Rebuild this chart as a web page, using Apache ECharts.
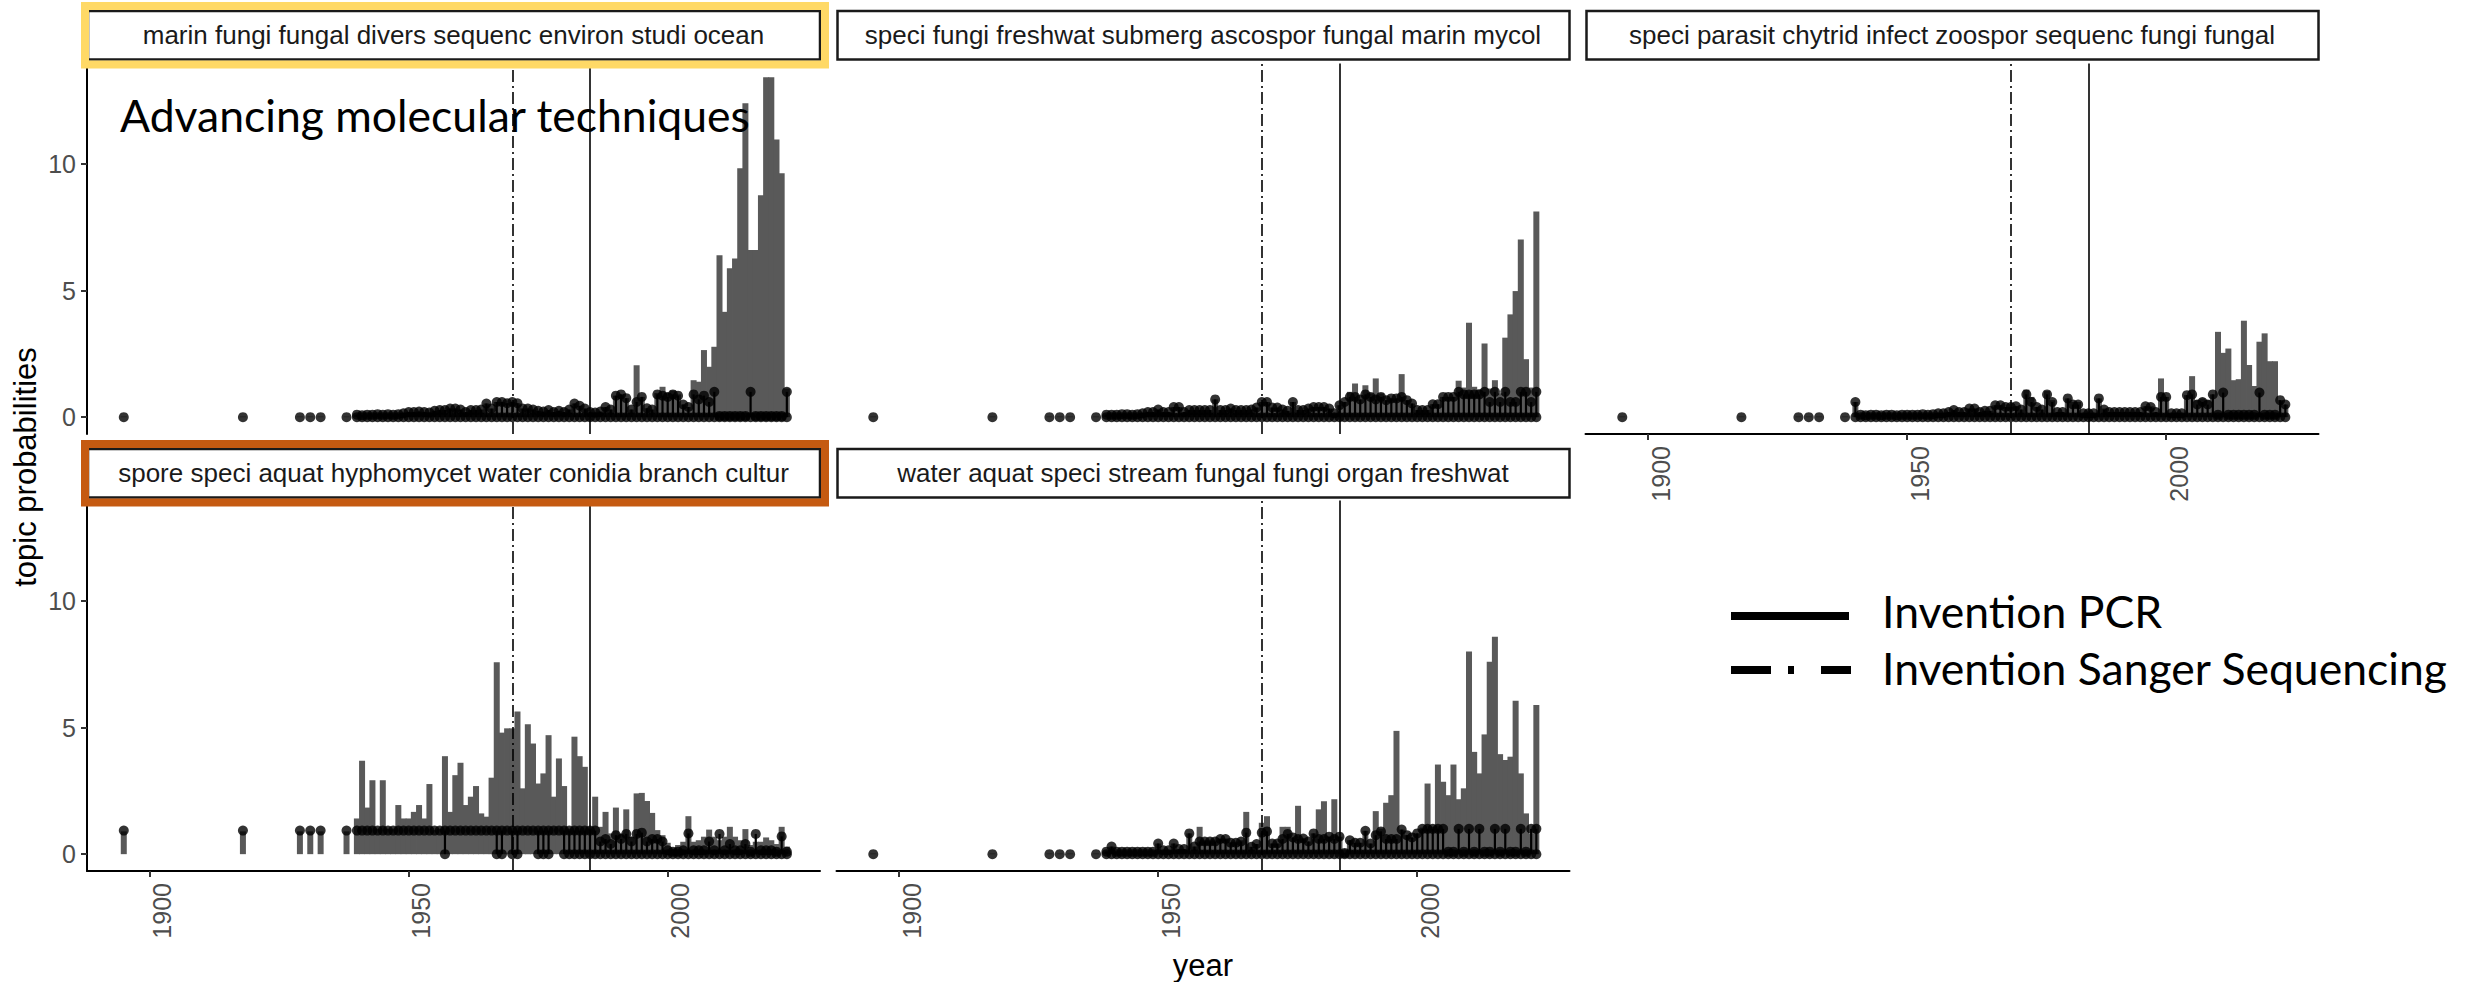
<!DOCTYPE html>
<html>
<head>
<meta charset="utf-8">
<script src="https://cdn.jsdelivr.net/npm/echarts@6/dist/echarts.min.js"></script>
<style>
html,body{margin:0;padding:0;background:#ffffff;}
#chart{width:2468px;height:982px;}
</style>
</head>
<body>
<div id="chart"></div>
<script>
// ---------------- DATA ----------------
const years = [1895,1918,1929,1931,1933,1938,
1940,1941,1942,1943,1944,1945,1946,1947,1948,1949,
1950,1951,1952,1953,1954,1955,1956,1957,1958,1959,
1960,1961,1962,1963,1964,1965,1966,1967,1968,1969,
1970,1971,1972,1973,1974,1975,1976,1977,1978,1979,
1980,1981,1982,1983,1984,1985,1986,1987,1988,1989,
1990,1991,1992,1993,1994,1995,1996,1997,1998,1999,
2000,2001,2002,2003,2004,2005,2006,2007,2008,2009,
2010,2011,2012,2013,2014,2015,2016,2017,2018,2019,
2020,2021,2022,2023];

const topicLabels = [
  'marin fungi fungal divers sequenc environ studi ocean',
  'speci fungi freshwat submerg ascospor fungal marin mycol',
  'speci parasit chytrid infect zoospor sequenc fungi fungal',
  'spore speci aquat hyphomycet water conidia branch cultur',
  'water aquat speci stream fungal fungi organ freshwat'
];

// yearly summed topic probability (grey bars)
const bars1 = [0.02,0.02,0.02,0.02,0.02,0.02,
0.1,0.08,0.1,0.1,0.12,0.1,0.12,0.1,0.12,0.15,
0.2,0.2,0.22,0.2,0.18,0.25,0.28,0.28,0.34,0.34,
0.3,0.2,0.28,0.28,0.3,0.54,0.34,0.6,0.6,0.55,
0.6,0.55,0.34,0.34,0.3,0.25,0.22,0.28,0.2,0.25,
0.2,0.3,0.54,0.45,0.34,0.2,0.18,0.22,0.4,0.3,
0.85,0.9,0.75,0.3,2.05,0.8,0.35,0.3,0.95,1.2,
0.95,1.05,0.9,0.5,0.4,1.46,1.4,2.65,1.99,2.78,
6.4,4.16,5.88,6.27,9.83,12.4,6.6,6.6,8.77,13.43,
13.43,10.97,9.63,1.13];
// highest single-document probability per year (black points)
const peaks1 = [0,0,0,0,0,0,
0.1,0.08,0.1,0.1,0.12,0.1,0.12,0.1,0.12,0.15,
0.2,0.2,0.22,0.2,0.18,0.25,0.28,0.28,0.34,0.34,
0.3,0.2,0.28,0.28,0.3,0.54,0.34,0.6,0.6,0.55,
0.6,0.55,0.34,0.34,0.3,0.25,0.22,0.28,0.2,0.25,
0.2,0.3,0.54,0.45,0.34,0.2,0.18,0.22,0.4,0.3,
0.85,0.9,0.75,0.3,0.6,0.8,0.35,0.3,0.9,0.85,
0.8,0.9,0.85,0.5,0.4,0.9,0.7,0.85,0.6,1.0,
0.05,0.05,0.05,0.05,0.05,0.05,1.0,0.05,0.05,0.05,
0.05,0.05,0.05,1.0];

const bars2 = [0.02,0.02,0.02,0.02,0.02,0.02,
0.1,0.1,0.1,0.12,0.12,0.1,0.12,0.15,0.2,0.2,
0.3,0.2,0.2,0.4,0.4,0.2,0.28,0.28,0.28,0.28,
0.28,0.7,0.28,0.28,0.34,0.28,0.28,0.28,0.3,0.38,
0.6,0.6,0.38,0.38,0.3,0.25,0.6,0.28,0.28,0.34,
0.4,0.4,0.4,0.34,0.15,0.47,0.6,1.0,1.33,0.7,
1.26,0.94,1.53,0.94,0.67,0.74,0.74,1.7,0.67,0.54,
0.28,0.28,0.28,0.51,0.51,0.8,0.8,0.8,1.44,1.17,
3.73,1.2,1.1,2.91,1.13,1.46,0.94,3.14,4.06,4.98,
7.02,2.29,1.17,8.12];
const peaks2 = [0,0,0,0,0,0,
0.1,0.1,0.1,0.12,0.12,0.1,0.12,0.15,0.2,0.2,
0.3,0.2,0.2,0.4,0.4,0.2,0.28,0.28,0.28,0.28,
0.28,0.7,0.28,0.28,0.34,0.28,0.28,0.28,0.3,0.38,
0.6,0.6,0.38,0.38,0.3,0.25,0.6,0.28,0.28,0.34,
0.4,0.4,0.4,0.34,0.15,0.47,0.6,0.8,0.8,0.7,
0.9,0.8,0.7,0.8,0.67,0.74,0.74,0.8,0.67,0.54,
0.28,0.28,0.28,0.51,0.51,0.8,0.8,0.8,1.0,0.9,
0.9,0.9,0.9,1.0,0.6,1.0,0.6,1.0,0.6,0.6,
1.0,1.0,0.6,1.0];

const bars3 = [0.02,0.02,0.02,0.02,0.02,0.02,
0.6,0.1,0.08,0.1,0.1,0.08,0.1,0.1,0.08,0.1,
0.1,0.1,0.1,0.12,0.1,0.12,0.15,0.15,0.2,0.28,
0.2,0.2,0.34,0.34,0.2,0.25,0.25,0.47,0.47,0.4,
0.4,0.43,0.3,1.09,0.8,0.4,0.3,1.03,0.67,0.2,
0.2,0.74,0.6,0.6,0.15,0.15,0.15,0.74,0.34,0.2,
0.2,0.2,0.2,0.2,0.2,0.2,0.43,0.43,0.2,1.53,
0.8,0.15,0.15,0.15,0.87,1.62,0.67,0.74,0.67,0.9,
3.37,2.54,2.71,1.46,1.5,3.81,2.06,1.23,2.98,3.31,
2.21,2.21,0.67,0.5];
const peaks3 = [0,0,0,0,0,0,
0.6,0.1,0.08,0.1,0.1,0.08,0.1,0.1,0.08,0.1,
0.1,0.1,0.1,0.12,0.1,0.12,0.15,0.15,0.2,0.28,
0.2,0.2,0.34,0.34,0.2,0.25,0.25,0.47,0.47,0.4,
0.4,0.43,0.3,0.9,0.6,0.4,0.3,0.9,0.6,0.2,
0.2,0.74,0.5,0.5,0.15,0.15,0.15,0.74,0.3,0.2,
0.2,0.2,0.2,0.2,0.2,0.2,0.43,0.4,0.2,0.8,
0.8,0.15,0.15,0.15,0.87,0.9,0.5,0.6,0.5,0.9,
0.1,0.97,0.1,0.1,0.1,0.1,0.1,0.1,0.97,0.1,
0.1,0.1,0.67,0.5];

const bars4 = [0.9,0.9,0.9,0.9,0.9,0.9,
1.41,3.69,1.84,2.92,1.0,2.92,1.0,1.0,1.94,1.41,
1.41,1.67,1.94,1.41,2.77,0.95,1.0,3.87,1.67,3.12,
3.61,1.94,2.27,2.69,1.61,1.48,3.02,7.58,4.8,4.97,
4.97,5.63,2.6,5.13,4.37,2.79,3.19,4.7,2.27,3.78,
2.69,1.0,4.64,3.87,3.45,1.0,2.27,1.08,1.67,0.82,
1.84,0.82,1.77,0.69,2.4,2.42,2.1,1.63,0.95,0.75,
0.45,0.22,0.36,0.49,1.5,0.49,0.55,0.69,0.97,0.69,
0.55,0.69,1.08,0.69,0.55,0.99,0.36,0.49,0.49,0.66,
0.55,0.4,1.08,0.3];
const peaks4 = [0.93,0.93,0.93,0.93,0.93,0.93,
0.93,0.93,0.93,0.93,0.93,0.93,0.93,0.93,0.93,0.93,
0.93,0.93,0.93,0.93,0.93,0.93,0.93,0.93,0.93,0.93,
0.93,0.93,0.93,0.93,0.93,0.93,0.93,0.93,0.93,0.93,
0.93,0.93,0.93,0.93,0.93,0.93,0.93,0.93,0.93,0.93,
0.93,0.93,0.93,0.93,0.93,0.93,0.93,0.5,0.6,0.4,
0.75,0.6,0.8,0.5,0.8,0.85,0.5,0.6,0.6,0.5,
0.15,0.1,0.1,0.15,0.82,0.15,0.15,0.15,0.5,0.15,
0.8,0.15,0.4,0.15,0.15,0.4,0.1,0.8,0.15,0.15,
0.15,0.1,0.7,0.1];
// lowest single-document probability per year (panel 4 only; others sit at 0)
const lows4 = [0.93,0.93,0.93,0.93,0.93,0.93,
0.93,0.93,0.93,0.93,0.93,0.93,0.93,0.93,0.93,0.93,
0.93,0.93,0.93,0.93,0.93,0.93,0.93,0,0.93,0.93,
0.93,0.93,0.93,0.93,0.93,0.93,0.93,0,0,0.93,
0,0,0.93,0.93,0.93,0,0,0,0.93,0.93,
0,0,0,0,0,0,0,0,0,0,
0,0,0,0,0,0,0,0,0,0,
0,0,0,0,0,0,0,0,0,0,
0,0,0,0,0,0,0,0,0,0,
0,0,0,0];

const bars5 = [0.02,0.02,0.02,0.02,0.02,0.02,
0.1,0.3,0.1,0.1,0.1,0.12,0.1,0.12,0.12,0.15,
0.42,0.15,0.15,0.42,0.2,0.2,0.82,0.3,1.08,0.55,
0.55,0.55,0.62,0.62,0.49,0.49,0.55,1.67,0.29,0.4,
1.24,1.5,0.42,0.42,1.08,1.08,0.66,1.91,0.62,0.5,
0.82,1.77,2.09,0.69,2.17,0.69,0.05,0.55,0.45,0.45,
0.92,0.42,1.7,1.01,2.03,2.33,4.87,0.97,0.75,0.66,
0.82,1.05,2.79,1.08,3.54,2.86,2.33,3.54,2.17,2.6,
8.0,4.04,3.19,4.73,7.6,8.59,3.95,3.72,3.85,6.06,
3.19,1.61,0.8,5.89];
const peaks5 = [0,0,0,0,0,0,
0.1,0.3,0.1,0.1,0.1,0.1,0.1,0.1,0.1,0.1,
0.42,0.15,0.15,0.42,0.2,0.2,0.82,0.3,0.5,0.5,
0.5,0.5,0.6,0.6,0.45,0.45,0.5,0.85,0.29,0.4,
0.85,0.9,0.42,0.42,0.6,0.8,0.66,0.6,0.62,0.5,
0.82,0.6,0.6,0.69,0.6,0.69,0.05,0.55,0.45,0.45,
0.92,0.42,0.75,0.9,0.6,0.6,0.6,0.97,0.75,0.66,
0.82,1.0,1.0,1.0,1.0,1.0,0.1,0.1,1.0,0.1,
1.0,0.1,1.0,0.1,0.1,1.0,0.1,1.0,0.1,0.1,
1.0,0.1,1.0,1.0];

const vlineYears = [1970, 1985];          // Sanger (dot-dash), PCR (solid)
const xTickValues = [1900, 1950, 2000];
const yTickValues = [0, 5, 10];
const annotation = 'Advancing molecular techniques';
const legendLabels = ['Invention PCR', 'Invention Sanger Sequencing'];
const axisTitles = {x: 'year', y: 'topic probabilities'};

// ---------------- LAYOUT ----------------
const COL_LEFT = [87, 836.5, 1585.5];
const PANEL_W = 733;
const ROW_TOP = [63.6, 500.6];
const PANEL_H = 370.4;
const STRIP_TOP = [11, 449];
const STRIP_H = 48.5;
const X_MIN = 1887.9, X_MAX = 2029.4;
const Y_MIN = -0.665, Y_MAX = 13.965;
const BAR = '#595959';
const ARIAL = '"Liberation Sans", Arial, sans-serif';
const CALIBRI = 'Lato, "Open Sans", sans-serif';

const panels = [
  {bars: bars1, peaks: peaks1, lows: null,  row: 0, col: 0, showY: true,  showX: false, frame: '#FFD966'},
  {bars: bars2, peaks: peaks2, lows: null,  row: 0, col: 1, showY: false, showX: false, frame: null},
  {bars: bars3, peaks: peaks3, lows: null,  row: 0, col: 2, showY: false, showX: true,  frame: null},
  {bars: bars4, peaks: peaks4, lows: lows4, row: 1, col: 0, showY: true,  showX: true,  frame: '#C55A11'},
  {bars: bars5, peaks: peaks5, lows: null,  row: 1, col: 1, showY: false, showX: true,  frame: null}
];

const grids = [], xAxes = [], yAxes = [], series = [], graphics = [];

panels.forEach((p, i) => {
  const left = COL_LEFT[p.col], top = ROW_TOP[p.row];
  grids.push({left: left, top: top, width: PANEL_W, height: PANEL_H, containLabel: false});
  xAxes.push({
    gridIndex: i, type: 'value', min: X_MIN, max: X_MAX,
    axisLine: {show: p.showX, onZero: false, lineStyle: {color: '#000', width: 2}},
    axisTick: {show: p.showX, customValues: xTickValues, length: 6, lineStyle: {color: '#333', width: 2}},
    axisLabel: {show: p.showX, customValues: xTickValues, rotate: 90, color: '#4D4D4D',
                fontSize: 25, fontFamily: ARIAL, margin: 12, verticalAlign: 'top',
                formatter: v => String(v)},
    splitLine: {show: false}
  });
  yAxes.push({
    gridIndex: i, type: 'value', min: Y_MIN, max: Y_MAX,
    axisLine: {show: p.showY, onZero: false, lineStyle: {color: '#000', width: 2}},
    axisTick: {show: p.showY, customValues: yTickValues, length: 6, lineStyle: {color: '#333', width: 2}},
    axisLabel: {show: p.showY, customValues: yTickValues, color: '#4D4D4D',
                fontSize: 25, fontFamily: ARIAL, margin: 11, formatter: v => String(v)},
    splitLine: {show: false}
  });

  const lowAt = k => (p.lows ? p.lows[k] : 0);

  series.push({
    type: 'bar', xAxisIndex: i, yAxisIndex: i, silent: true, z: 2,
    barWidth: 6,
    itemStyle: {color: BAR},
    data: years.map((y, k) => [y, p.bars[k]])
  });

  series.push({
    type: 'custom', xAxisIndex: i, yAxisIndex: i, silent: true, z: 3,
    encode: {x: 0, y: [1, 2]},
    data: years.map((y, k) => [y, lowAt(k), p.peaks[k]]).filter(d => d[2] > d[1]),
    renderItem: (params, api) => {
      const a = api.coord([api.value(0), api.value(1)]);
      const b = api.coord([api.value(0), api.value(2)]);
      return {type: 'line', shape: {x1: a[0], y1: a[1], x2: b[0], y2: b[1]},
              style: {stroke: '#000', lineWidth: 2.2}};
    }
  });

  const pts = [];
  years.forEach((y, k) => {
    pts.push([y, lowAt(k)]);
    if (p.peaks[k] > lowAt(k)) pts.push([y, p.peaks[k]]);
  });
  series.push({
    type: 'scatter', xAxisIndex: i, yAxisIndex: i, silent: true, z: 4,
    symbol: 'circle', symbolSize: 10, itemStyle: {color: '#000'},
    data: pts,
    markLine: {
      silent: true, symbol: ['none', 'none'], label: {show: false},
      lineStyle: {color: '#000', width: 1.6},
      data: [
        {xAxis: vlineYears[0], lineStyle: {type: [12, 4, 2, 4], color: '#000', width: 1.6}},
        {xAxis: vlineYears[1], lineStyle: {type: 'solid', color: '#000', width: 1.6}}
      ]
    }
  });

  // strip
  const sTop = STRIP_TOP[p.row];
  graphics.push({type: 'rect', z: 50, silent: true,
    shape: {x: left + 1, y: sTop, width: PANEL_W - 1, height: STRIP_H},
    style: {fill: '#fff', stroke: '#1a1a1a', lineWidth: 2.5}});
  graphics.push({type: 'text', z: 51, silent: true,
    x: left + PANEL_W / 2, y: sTop + STRIP_H / 2,
    style: {text: topicLabels[i], font: '26px ' + ARIAL, fill: '#1a1a1a',
            align: 'center', verticalAlign: 'middle', textAlign: 'center', textVerticalAlign: 'middle'}});
  if (p.frame) {
    graphics.push({type: 'rect', z: 52, silent: true,
      shape: {x: left - 2, y: sTop - 5, width: PANEL_W + 7, height: STRIP_H + 10},
      style: {fill: 'none', stroke: p.frame, lineWidth: 8}});
  }
});

// annotation
graphics.push({type: 'text', z: 60, silent: true, x: 120, y: 114,
  style: {text: annotation, font: '44.5px ' + CALIBRI, fill: '#000',
          align: 'left', verticalAlign: 'middle', textAlign: 'left', textVerticalAlign: 'middle'}});

// axis titles
graphics.push({type: 'text', z: 60, silent: true, x: 1203, y: 965,
  style: {text: axisTitles.x, font: '31px ' + ARIAL, fill: '#000',
          align: 'center', verticalAlign: 'middle', textAlign: 'center', textVerticalAlign: 'middle'}});
graphics.push({type: 'text', z: 60, silent: true, x: 25, y: 467, rotation: Math.PI / 2,
  style: {text: axisTitles.y, font: '31px ' + ARIAL, fill: '#000',
          align: 'center', verticalAlign: 'middle', textAlign: 'center', textVerticalAlign: 'middle'}});

// legend
graphics.push({type: 'line', z: 60, silent: true,
  shape: {x1: 1731, y1: 616, x2: 1849, y2: 616},
  style: {stroke: '#000', lineWidth: 8, lineCap: 'butt'}});
graphics.push({type: 'line', z: 60, silent: true,
  shape: {x1: 1731, y1: 670, x2: 1851, y2: 670},
  style: {stroke: '#000', lineWidth: 8, lineCap: 'butt', lineDash: [40, 17, 6, 27]}});
graphics.push({type: 'text', z: 60, silent: true, x: 1882, y: 610,
  style: {text: legendLabels[0], font: '44.5px ' + CALIBRI, fill: '#000',
          align: 'left', verticalAlign: 'middle', textAlign: 'left', textVerticalAlign: 'middle'}});
graphics.push({type: 'text', z: 60, silent: true, x: 1882, y: 667,
  style: {text: legendLabels[1], font: '44.5px ' + CALIBRI, fill: '#000',
          align: 'left', verticalAlign: 'middle', textAlign: 'left', textVerticalAlign: 'middle'}});

const chart = echarts.init(document.getElementById('chart'), null, {renderer: 'svg', width: 2468, height: 982});
chart.setOption({
  animation: false,
  backgroundColor: '#ffffff',
  grid: grids,
  xAxis: xAxes,
  yAxis: yAxes,
  series: series,
  graphic: {elements: graphics}
});
</script>
</body>
</html>
